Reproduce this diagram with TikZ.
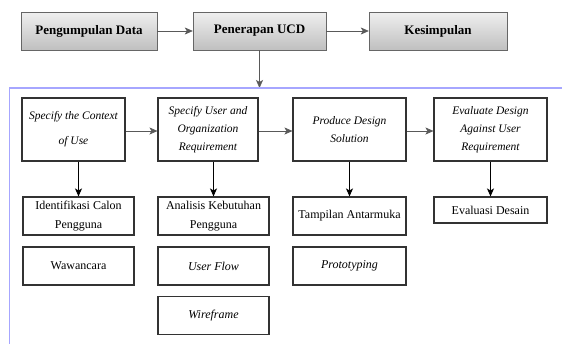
\documentclass[tikz,border=0pt]{standalone}
\usepackage{fontspec}
\setmainfont{Liberation Serif}
\usetikzlibrary{arrows.meta}
\tikzset{
  phase/.style={draw=gray!80!black, top color=gray!12, bottom color=gray!50, minimum height=38pt, inner sep=2pt, font=\fontsize{13}{15}\selectfont\bfseries},
  stage/.style={draw=black!80, line width=1.1pt, align=center, minimum height=63pt, inner sep=2pt, font=\fontsize{11.5}{18}\selectfont\itshape},
  task/.style={draw=black!80, line width=1.1pt, align=center, minimum height=38pt, inner sep=2pt, font=\fontsize{12}{19}\selectfont},
  flow/.style={->, line width=0.6pt},
  frame/.style={draw=blue!35, line width=1.2pt}
}
\begin{document}
\begin{tikzpicture}[x=1pt, y=-1pt, >={Stealth[length=8pt, width=7pt, inset=2pt]}]
  \useasboundingbox (0,0) rectangle (562,343);
  \clip (0,0) rectangle (562,343);
  \node [phase, minimum width=136pt] (data) at (89,31) {Pengumpulan Data};
  \node [phase, minimum width=133pt] (ucd) at (259.5,31) {Penerapan UCD};
  \node [phase, minimum width=138pt] (simpul) at (438,31) {Kesimpulan};
  \draw [flow, draw=gray!70!black] (data) -- (ucd);
  \draw [flow, draw=gray!70!black] (ucd) -- (simpul);
  \coordinate (frametop) at (259.5,88);
  \draw [flow, draw=gray!70!black] (ucd.south) -- (frametop);
  \draw [frame] (580,88) -| (9.5,360);
  \node [stage, minimum width=103pt] (context) at (73.5,129.5) {Specify the Context\\[7pt]of Use};
  \node [stage, minimum width=100pt] (require) at (208,129.5) {Specify User and\\Organization\\Requirement};
  \node [stage, minimum width=113pt] (design) at (349.5,129.5) {Produce Design\\Solution};
  \node [stage, minimum width=113pt] (evaluate) at (490.5,129.5) {Evaluate Design\\Against User\\Requirement};
  \draw [flow, draw=gray!70!black] ([yshift=-1.5pt]context.east) -- ([yshift=-1.5pt]require.west);
  \draw [flow, draw=gray!70!black] ([yshift=-1.5pt]require.east) -- ([yshift=-1.5pt]design.west);
  \draw [flow, draw=gray!70!black] ([yshift=-1.5pt]design.east) -- ([yshift=-1.5pt]evaluate.west);
  \node [task, minimum width=111pt] (calon) at (78.5,216) {Identifikasi Calon\\Pengguna};
  \node [task, minimum width=111pt] (wawancara) at (78.5,266) {Wawancara};
  \node [task, minimum width=111pt] (analisis) at (213.5,216) {Analisis Kebutuhan\\Pengguna};
  \node [task, minimum width=111pt] (userflow) at (213.5,266) {\itshape User Flow};
  \node [task, minimum width=111pt] (wireframe) at (213.5,315.5) {\itshape Wireframe};
  \node [task, minimum width=113pt] (antarmuka) at (349.5,216) {Tampilan Antarmuka};
  \node [task, minimum width=113pt] (prototype) at (349.5,266) {\itshape Prototyping};
  \node [task, minimum width=113pt, minimum height=26pt] (evaluasi) at (490.5,210) {Evaluasi Desain};
  \draw [flow, line width=1pt] (calon.north |- context.south) -- (calon.north);
  \draw [flow, line width=1pt] (analisis.north |- require.south) -- (analisis.north);
  \draw [flow, line width=1pt] (antarmuka.north |- design.south) -- (antarmuka.north);
  \draw [flow, line width=1pt] (evaluasi.north |- evaluate.south) -- (evaluasi.north);
\end{tikzpicture}
\end{document}
